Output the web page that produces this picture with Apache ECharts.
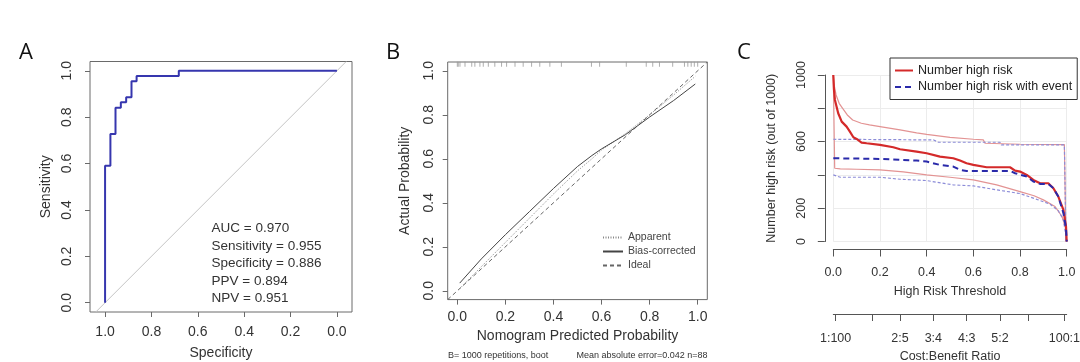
<!DOCTYPE html>
<html>
<head>
<meta charset="utf-8">
<script src="https://cdn.jsdelivr.net/npm/echarts@6/dist/echarts.min.js"></script>
<style>
html,body{margin:0;padding:0;background:#fff;}
#chart{width:1080px;height:362px;}
</style>
</head>
<body>
<div id="chart"></div>
<script>
// ---------- Panel A: ROC ----------
const rocSpec = [1.0, 1.0, 0.977, 0.977, 0.955, 0.955, 0.932, 0.932, 0.909, 0.909, 0.886, 0.886, 0.864, 0.864, 0.682, 0.682, 0.0];
const rocSens = [0.0, 0.591, 0.591, 0.727, 0.727, 0.841, 0.841, 0.864, 0.864, 0.886, 0.886, 0.955, 0.955, 0.977, 0.977, 1.0, 1.0];
const refLineSpec = [1.04, -0.04];
const refLineSens = [-0.04, 1.04];
const rocStats = ['AUC = 0.970', 'Sensitivity = 0.955', 'Specificity = 0.886', 'PPV = 0.894', 'NPV = 0.951'];
const probTicks = [0, 0.2, 0.4, 0.6, 0.8, 1.0];

// ---------- Panel B: calibration ----------
const calX = [0.01, 0.1, 0.2, 0.3, 0.4, 0.5, 0.56, 0.6, 0.7, 0.8, 0.9, 0.99];
const apparentY = [0.01, 0.11, 0.22, 0.33, 0.44, 0.545, 0.6, 0.64, 0.715, 0.8, 0.89, 0.975];
const biasCorrY = [0.035, 0.145, 0.255, 0.36, 0.465, 0.565, 0.615, 0.645, 0.71, 0.79, 0.865, 0.94];
const idealX = [-0.04, 1.04];
const idealY = [-0.04, 1.04];
const rugX = [0.0, 0.004, 0.011, 0.032, 0.06, 0.073, 0.094, 0.108, 0.129, 0.156, 0.184, 0.205, 0.24, 0.274, 0.309, 0.343, 0.385, 0.433, 0.558, 0.592, 0.703, 0.786, 0.813, 0.841, 0.896, 0.945, 0.959, 0.973, 0.986, 1.0];
const calFooterLeft = 'B= 1000 repetitions, boot';
const calFooterRight = 'Mean absolute error=0.042 n=88';

// ---------- Panel C: clinical impact ----------
const nhrX = [0, 0.003, 0.007, 0.021, 0.036, 0.057, 0.071, 0.086, 0.1, 0.121, 0.143, 0.2, 0.257, 0.286, 0.357, 0.4, 0.457, 0.514, 0.543, 0.571, 0.6, 0.657, 0.757, 0.779, 0.8, 0.829, 0.857, 0.886, 0.921, 0.943, 0.964, 0.986, 0.997, 1.0];
const nhrY = [1000, 910, 850, 770, 720, 690, 660, 626, 616, 594, 590, 580, 566, 554, 540, 530, 510, 500, 486, 470, 460, 446, 446, 426, 420, 400, 370, 350, 350, 320, 270, 190, 90, 0];
const nhrUpX = [0, 0.005, 0.012, 0.025, 0.04, 0.06, 0.083, 0.12, 0.155, 0.2, 0.286, 0.357, 0.4, 0.5, 0.6, 0.643, 0.65, 0.8, 0.99, 0.997];
const nhrUpY = [1000, 930, 880, 830, 800, 760, 730, 710, 700, 690, 670, 652, 643, 625, 614, 610, 590, 584, 582, 0];
const nhrLoX = [0, 0.006, 0.03, 0.1, 0.2, 0.3, 0.4, 0.5, 0.6, 0.7, 0.8, 0.86, 0.9, 0.95, 0.98, 0.995, 1.0];
const nhrLoY = [1000, 440, 436, 434, 430, 418, 400, 386, 370, 340, 300, 275, 250, 210, 150, 80, 0];
const evtX = [0, 0.2, 0.357, 0.4, 0.457, 0.514, 0.543, 0.571, 0.757, 0.779, 0.829, 0.857, 0.886, 0.921, 0.943, 0.964, 0.986, 0.997, 1.0];
const evtY = [500, 496, 486, 480, 460, 450, 430, 424, 424, 410, 390, 360, 346, 346, 320, 270, 170, 80, 0];
const evtUpX = [0, 0.43, 0.45, 0.714, 0.72, 0.99, 0.997];
const evtUpY = [614, 610, 596, 596, 580, 580, 0];
const evtLoX = [0, 0.03, 0.2, 0.286, 0.4, 0.486, 0.514, 0.6, 0.7, 0.8, 0.886, 0.929, 0.964, 0.986, 1.0];
const evtLoY = [400, 386, 386, 374, 366, 346, 340, 334, 310, 288, 246, 224, 185, 130, 0];
const countTicks = [0, 200, 400, 600, 800, 1000];
const countLabels = [0, 200, 600, 1000];
const costBenefit = [[1, 100], [1, 5], [2, 5], [3, 4], [4, 3], [5, 2], [5, 1], [100, 1]];
const costBenefitShown = ['1:100', '2:5', '3:4', '4:3', '5:2', '100:1'];

const panelLetters = ['A', 'B', 'C'];

// ---------- build ----------
const zip = (xs, ys) => xs.map((x, i) => [x, ys[i]]);
const FONT = 'Liberation Sans';
const TXT = '#333';
const FRAME = '#6a6a6a';
const cbVals = costBenefit.map(r => r[0] / (r[0] + r[1]));
const cbLabelVals = cbVals.filter((v, i) => costBenefitShown.indexOf(costBenefit[i][0] + ':' + costBenefit[i][1]) >= 0);
function cbFormat(v) {
  let best = 0, d = 1e9;
  cbVals.forEach((c, i) => { if (Math.abs(c - v) < d) { d = Math.abs(c - v); best = i; } });
  return costBenefit[best][0] + ':' + costBenefit[best][1];
}

const lineS = (name, data, xi, yi, color, width, type, z) => ({
  name, type: 'line', data, xAxisIndex: xi, yAxisIndex: yi, symbol: 'none',
  lineStyle: { color, width, type }, itemStyle: { color }, z: z || 2, silent: true
});

const probLabel = (extra) => Object.assign({ customValues: probTicks, formatter: v => v.toFixed(1), fontSize: 14, color: TXT, fontFamily: FONT }, extra);

const boxAxis = (gi, min, max, name, nameGap, extra) => Object.assign({
  gridIndex: gi, type: 'value', min, max, name, nameLocation: 'middle', nameGap,
  nameTextStyle: { fontSize: 14, color: TXT, fontFamily: FONT },
  axisLine: { show: false, onZero: false },
  axisTick: { show: true, customValues: probTicks, length: 5, lineStyle: { color: FRAME } },
  splitLine: { show: false }
}, extra);

const option = {
  animation: false,
  backgroundColor: '#fff',
  grid: [
    { left: 90, top: 61.5, width: 262, height: 250.5, show: true, borderColor: FRAME, borderWidth: 1, containLabel: false, outerBoundsMode: 'none' },
    { left: 447.7, top: 62, width: 259.6, height: 237.6, show: true, borderColor: FRAME, borderWidth: 1, containLabel: false, outerBoundsMode: 'none' },
    { left: 833.3, top: 75, width: 233.4, height: 166.5, show: false, containLabel: false, outerBoundsMode: 'none' }
  ],
  xAxis: [
    boxAxis(0, -0.065, 1.065, 'Specificity', 34, { inverse: true, axisLabel: probLabel({ margin: 13 }) }),
    boxAxis(1, -0.04, 1.04, 'Nomogram Predicted Probability', 30, { axisLabel: probLabel({ margin: 11 }) }),
    {
      gridIndex: 2, type: 'value', min: 0, max: 1, interval: 0.2, offset: 8,
      name: 'High Risk Threshold', nameLocation: 'middle', nameGap: 36,
      nameTextStyle: { fontSize: 12.5, color: TXT, fontFamily: FONT },
      axisLine: { show: true, onZero: false, lineStyle: { color: '#555', width: 1 } },
      axisTick: { show: true, length: 7, lineStyle: { color: '#555' } },
      axisLabel: { formatter: v => v.toFixed(1), fontSize: 12.5, color: TXT, fontFamily: FONT, margin: 17 },
      splitLine: { show: true, lineStyle: { color: '#ececec', width: 1 } }
    },
    {
      gridIndex: 2, type: 'value', min: 0, max: 1, position: 'bottom', offset: 72.5,
      name: 'Cost:Benefit Ratio', nameLocation: 'middle', nameGap: 36,
      nameTextStyle: { fontSize: 12.5, color: TXT, fontFamily: FONT },
      axisLine: { show: true, onZero: false, lineStyle: { color: '#555', width: 1 } },
      axisTick: { show: true, length: 7, customValues: cbVals, lineStyle: { color: '#555' } },
      axisLabel: { customValues: cbLabelVals, formatter: cbFormat, fontSize: 12.5, color: TXT, fontFamily: FONT, margin: 18 },
      splitLine: { show: false }
    }
  ],
  yAxis: [
    boxAxis(0, -0.04, 1.04, 'Sensitivity', 37, { axisLabel: probLabel({ rotate: 90, margin: 16 }) }),
    boxAxis(1, -0.04, 1.04, 'Actual Probability', 36, { axisLabel: probLabel({ rotate: 90, margin: 12 }) }),
    {
      gridIndex: 2, type: 'value', min: 0, max: 1000, interval: 200, offset: 8.5,
      name: 'Number high risk (out of 1000)', nameLocation: 'middle', nameGap: 47,
      nameTextStyle: { fontSize: 12.5, color: TXT, fontFamily: FONT },
      axisLine: { show: true, onZero: false, lineStyle: { color: '#555', width: 1 } },
      axisTick: { show: true, length: 7, customValues: countTicks, lineStyle: { color: '#555' } },
      axisLabel: { customValues: countLabels, formatter: v => String(v), fontSize: 12.5, color: TXT, fontFamily: FONT, rotate: 90, margin: 17 },
      splitLine: { show: true, lineStyle: { color: '#ececec', width: 1 } }
    }
  ],
  legend: [
    {
      data: ['Apparent', 'Bias-corrected', 'Ideal'], left: 597, top: 227, orient: 'vertical',
      itemWidth: 20, itemHeight: 10, itemGap: 3, selectedMode: false,
      itemStyle: { opacity: 0 },
      textStyle: { fontSize: 10.5, color: '#444', fontFamily: FONT }
    },
    {
      data: ['Number high risk', 'Number high risk with event'], left: 890, top: 58, orient: 'vertical',
      itemWidth: 18, itemHeight: 12, itemGap: 3.5, selectedMode: false,
      itemStyle: { opacity: 0 },
      padding: [6, 5, 6, 4], borderColor: '#333', borderWidth: 1, backgroundColor: '#fff',
      textStyle: { fontSize: 12.5, color: '#222', fontFamily: FONT }
    }
  ],
  series: [
    lineS('ref', zip(refLineSpec, refLineSens), 0, 0, '#c4c4c4', 1, 'solid', 1),
    lineS('ROC', zip(rocSpec, rocSens), 0, 0, '#3636ae', 2, 'solid', 3),

    lineS('Ideal', zip(idealX, idealY), 1, 1, '#666', 1, [4, 3], 2),
    lineS('Apparent', zip(calX, apparentY), 1, 1, '#888', 1, [1, 1.5], 2),
    lineS('Bias-corrected', zip(calX, biasCorrY), 1, 1, '#444', 1, 'solid', 3),
    {
      name: 'rug', type: 'scatter', xAxisIndex: 1, yAxisIndex: 1, symbol: 'rect', symbolSize: [1, 5],
      data: rugX.map(x => [x, 1.03]), itemStyle: { color: '#9a9a9a' }, silent: true
    },

    lineS('nhr upper', zip(nhrUpX, nhrUpY), 2, 2, '#e39393', 1.2, 'solid', 2),
    lineS('nhr lower', zip(nhrLoX, nhrLoY), 2, 2, '#e39393', 1.2, 'solid', 2),
    lineS('evt upper', zip(evtUpX, evtUpY), 2, 2, '#8c8cd8', 1.2, [3, 2], 2),
    lineS('evt lower', zip(evtLoX, evtLoY), 2, 2, '#8c8cd8', 1.2, [3, 2], 2),
    lineS('Number high risk', zip(nhrX, nhrY), 2, 2, '#d42a2a', 2.2, 'solid', 4),
    lineS('Number high risk with event', zip(evtX, evtY), 2, 2, '#2a2aaa', 2, [6, 4], 4)
  ],
  graphic: [
    ...rocStats.map((t, i) => ({
      type: 'text', x: 211.5, y: [228.3, 246, 263.3, 281, 298.3][i], silent: true,
      style: { text: t, font: '13.5px "Liberation Sans"', fill: TXT, textVerticalAlign: 'middle', verticalAlign: 'middle' }
    })),
    { type: 'text', x: 448, y: 355.5, silent: true,
      style: { text: calFooterLeft, font: '9px "Liberation Sans"', fill: TXT, textVerticalAlign: 'middle', verticalAlign: 'middle' } },
    { type: 'text', x: 707.5, y: 355.5, silent: true,
      style: { text: calFooterRight, font: '9px "Liberation Sans"', fill: TXT, textAlign: 'right', align: 'right', textVerticalAlign: 'middle', verticalAlign: 'middle' } },
    ...panelLetters.map((t, i) => ({
      type: 'text', x: [26, 393, 744][i], y: 53, silent: true,
      style: { text: t, font: '22px "Open Sans"', fill: '#111', textAlign: 'center', align: 'center', textVerticalAlign: 'middle', verticalAlign: 'middle' }
    }))
  ]
};

const chart = echarts.init(document.getElementById('chart'), null, { renderer: 'canvas' });
chart.setOption(option);
</script>
</body>
</html>
